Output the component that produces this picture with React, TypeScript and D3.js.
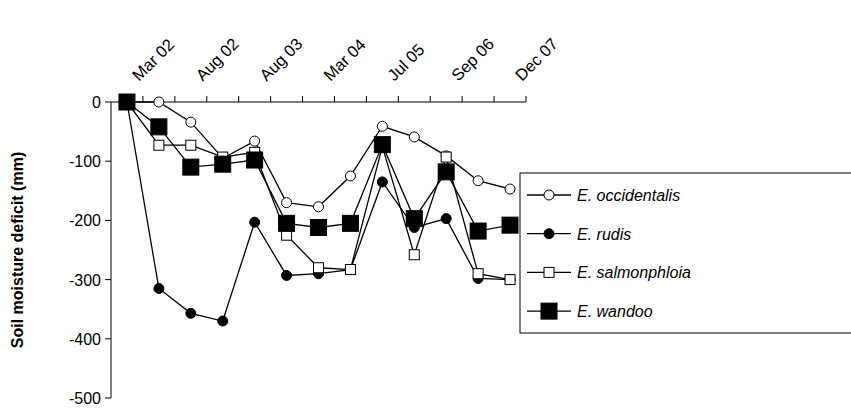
import * as d3 from "d3";
import React, { useEffect, useRef } from "react";

const dates = ["", "Mar 02", "", "Aug 02", "", "Aug 03", "", "Mar 04", "", "Jul 05", "", "Sep 06", "", "Dec 07"];
const cats = d3.range(13).map(String);
const yTicks = [0, -100, -200, -300, -400, -500];

const occidentalis = [0, 0, -34, -95, -66, -170, -177, -125, -41, -59, -91, -133, -147];
const rudis = [0, -315, -357, -370, -203, -293, -290, -283, -135, -212, -197, -298, -300];
const salmonphloia = [0, -73, -73, -93, -85, -225, -280, -283, -75, -258, -93, -290, -300];
const wandoo = [0, -42, -110, -105, -98, -205, -212, -205, -72, -197, -118, -218, -208];

const series = [
  { name: "E. occidentalis", values: occidentalis, shape: "circle", fill: "#fff", size: 5 },
  { name: "E. rudis", values: rudis, shape: "circle", fill: "#000", size: 5 },
  { name: "E. salmonphloia", values: salmonphloia, shape: "square", fill: "#fff", size: 5 },
  { name: "E. wandoo", values: wandoo, shape: "square", fill: "#000", size: 8 },
];

const App: React.FC = () => {
  const ref = useRef<SVGSVGElement | null>(null);

  useEffect(() => {
    if (!ref.current) return;
    const svg = d3.select(ref.current);
    svg.selectAll("*").remove();
    const left = 111, right = 526, top = 102, bottom = 398;

    const x = d3.scaleBand().domain(cats).range([left, right]);
    const y = d3.scaleLinear().domain([-500, 0]).range([bottom, top]);
    const font = "Arial, 'Liberation Sans', sans-serif";

    // x axis on top (y = 0)
    const tickX = (i: number) => left + i * x.step();
    svg.append("line").attr("x1", left).attr("x2", right).attr("y1", y(0)).attr("y2", y(0)).attr("stroke", "#000");
    for (let i = 1; i <= 13; i++) {
      svg.append("line").attr("x1", tickX(i)).attr("x2", tickX(i)).attr("y1", y(0)).attr("y2", y(0) - 6).attr("stroke", "#000");
      if (dates[i]) {
        svg.append("text").attr("transform", `translate(${tickX(i) - 4},${y(0) - 20}) rotate(-45)`)
          .attr("text-anchor", "start").attr("font-family", font).attr("font-size", 16.5).text(dates[i]);
      }
    }

    // y axis
    svg.append("line").attr("x1", left).attr("x2", left).attr("y1", top).attr("y2", bottom).attr("stroke", "#000");
    yTicks.forEach((t) => {
      svg.append("line").attr("x1", left - 6).attr("x2", left).attr("y1", y(t)).attr("y2", y(t)).attr("stroke", "#000");
      svg.append("text").attr("x", left - 10).attr("y", y(t) + 6).attr("text-anchor", "end")
        .attr("font-family", font).attr("font-size", 16).text(t);
    });
    svg.append("text").attr("transform", `translate(23,${(top + bottom) / 2}) rotate(-90)`)
      .attr("text-anchor", "middle").attr("font-family", font).attr("font-size", 16).attr("font-weight", "bold")
      .text("Soil moisture deficit (mm)");

    const cx = (i: number) => (x(cats[i]) as number) + x.bandwidth() / 2;
    const drawMarker = (g: any, s: typeof series[0], px: number, py: number) => {
      if (s.shape === "circle") {
        g.append("circle").attr("cx", px).attr("cy", py).attr("r", s.size).attr("fill", s.fill).attr("stroke", "#000").attr("stroke-width", 1);
      } else {
        g.append("rect").attr("x", px - s.size).attr("y", py - s.size).attr("width", s.size * 2).attr("height", s.size * 2)
          .attr("fill", s.fill).attr("stroke", "#000").attr("stroke-width", 1);
      }
    };

    const line = d3.line<number>().x((_, i) => cx(i)).y((d) => y(d));
    series.forEach((s) => {
      svg.append("path").datum(s.values).attr("d", line).attr("fill", "none").attr("stroke", "#000").attr("stroke-width", 1.3);
    });
    series.forEach((s) => {
      const g = svg.append("g");
      s.values.forEach((v, i) => drawMarker(g, s, cx(i), y(v)));
    });

    // legend
    svg.append("rect").attr("x", 520).attr("y", 173).attr("width", 340).attr("height", 160).attr("fill", "#fff").attr("stroke", "#000");
    series.forEach((s, i) => {
      const ly = 195 + i * 38.7;
      svg.append("line").attr("x1", 527).attr("x2", 571).attr("y1", ly).attr("y2", ly).attr("stroke", "#000").attr("stroke-width", 1.3);
      drawMarker(svg, s, 549, ly);
      svg.append("text").attr("x", 577).attr("y", ly + 6).attr("font-family", font).attr("font-size", 16)
        .attr("font-style", "italic").text(s.name);
    });
  }, []);

  return <svg ref={ref} width={851} height={415} style={{ position: "absolute", left: 0, top: 0 }} />;
};

export default App;
